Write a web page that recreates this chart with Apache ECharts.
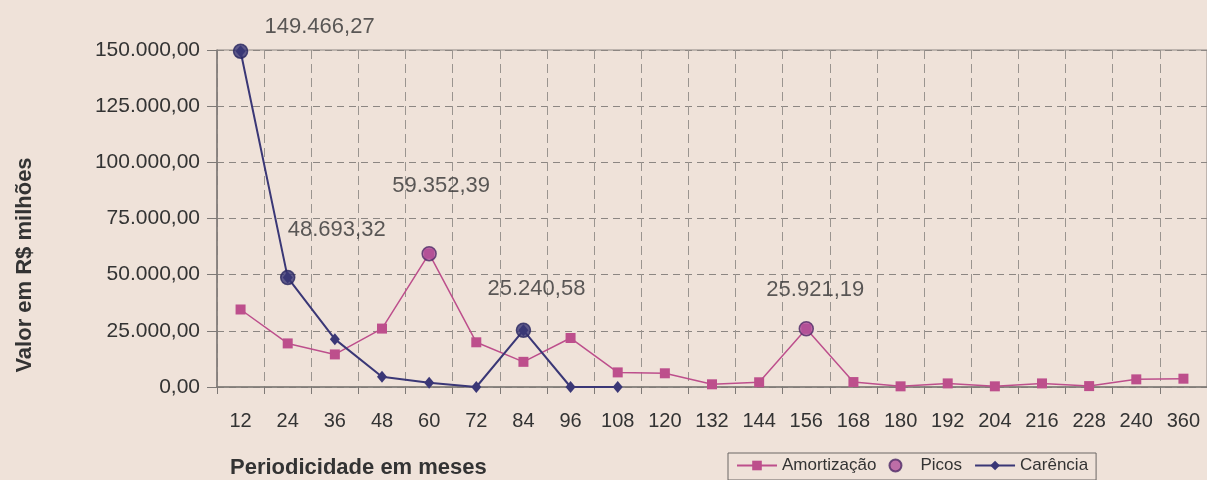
<!DOCTYPE html>
<html>
<head>
<meta charset="utf-8">
<style>
  html, body { margin: 0; padding: 0; background: #efe2d9; }
  #chart { width: 1207px; height: 480px; }
</style>
<script src="https://cdn.jsdelivr.net/npm/echarts@6/dist/echarts.min.js"></script>
</head>
<body>
<div id="chart"></div>
<script>
const meses = ['12', '24', '36', '48', '60', '72', '84', '96', '108', '120', '132', '144', '156', '168', '180', '192', '204', '216', '228', '240', '360'];
const amortizacao = [34500, 19400, 14500, 26000, 59352.39, 19900, 11200, 21800, 6500, 6100, 1200, 2100, 25921.19, 2200, 300, 1600, 300, 1600, 400, 3400, 3700];
const carencia = [149466.27, 48693.32, 21300, 4600, 1900, 0, 25240.58, 0, 0, null, null, null, null, null, null, null, null, null, null, null, null];
const picos = [149466.27, 48693.32, null, null, 59352.39, null, 25240.58, null, null, null, null, null, 25921.19, null, null, null, null, null, null, null, null];
const yTicks = [0, 25000, 50000, 75000, 100000, 125000, 150000];

const PINK = '#bd4f8c';
const NAVY = '#3a3776';
const TEXT = '#333333';
const GRIDC = '#8c8682';

function fmt(v) {
  const parts = Number(v).toFixed(2).split('.');
  return parts[0].replace(/\B(?=(\d{3})+(?!\d))/g, '.') + ',' + parts[1];
}

// label nudges for the peak values, by category index
const picoOffsets = { 0: [79, -1], 1: [49, -24], 4: [12, -44], 6: [13, -18], 12: [9, -15] };
const picoNavy = { 0: true, 1: true, 6: true };

const chart = echarts.init(document.getElementById('chart'), null, { renderer: 'canvas' });

chart.setOption({
  animation: false,
  backgroundColor: '#efe2d9',
  textStyle: { fontFamily: '"Liberation Sans", Arial, sans-serif' },
  grid: {
    left: 217, right: 0, top: 50, bottom: 93,
    show: true, borderColor: GRIDC, borderWidth: 1, backgroundColor: 'transparent'
  },
  graphic: [
    {
      type: 'text', x: 25, y: 265, rotation: Math.PI / 2,
      style: {
        text: 'Valor em R$ milhões', fill: TEXT,
        font: 'bold 22px "Liberation Sans", Arial, sans-serif',
        align: 'center', verticalAlign: 'middle'
      }
    },
    {
      type: 'text', left: 230, top: 457,
      style: {
        text: 'Periodicidade em meses', fill: TEXT,
        font: 'bold 22px "Liberation Sans", Arial, sans-serif'
      }
    }
  ],
  legend: {
    left: 728, top: 453,
    padding: [4, 8, 6, 8],
    itemGap: 12,
    itemWidth: 40, itemHeight: 12,
    borderColor: '#6b6765', borderWidth: 1,
    textStyle: { color: TEXT, fontSize: 17 },
    data: ['Amortização', 'Picos', 'Carência']
  },
  xAxis: {
    type: 'category',
    data: meses,
    boundaryGap: true,
    axisLine: { lineStyle: { color: '#7e7976', width: 1.5 } },
    axisTick: { show: true, length: 7, lineStyle: { color: '#7e7976' } },
    axisLabel: { color: TEXT, fontSize: 20, margin: 24, interval: 0 },
    splitLine: { show: true, interval: 0, lineStyle: { color: '#9a948f', type: [9, 5], width: 1 } }
  },
  yAxis: {
    type: 'value',
    min: yTicks[0],
    max: yTicks[yTicks.length - 1],
    interval: yTicks[1] - yTicks[0],
    axisLine: { show: true, lineStyle: { color: '#7e7976', width: 1.5 } },
    axisTick: { show: true, length: 10, lineStyle: { color: '#7e7976' } },
    axisLabel: { color: TEXT, fontSize: 21, margin: 17, formatter: fmt },
    splitLine: { show: true, lineStyle: { color: GRIDC, type: [7, 5], width: 1 } }
  },
  series: [
    {
      name: 'Amortização',
      type: 'line',
      data: amortizacao,
      symbol: 'rect',
      symbolSize: 10,
      lineStyle: { color: PINK, width: 1.5 },
      itemStyle: { color: PINK },
      z: 2
    },
    {
      name: 'Carência',
      type: 'line',
      data: carencia,
      symbol: 'diamond',
      symbolSize: [10, 12],
      lineStyle: { color: NAVY, width: 2 },
      itemStyle: { color: NAVY },
      z: 3
    },
    {
      name: 'Picos',
      type: 'scatter',
      symbol: 'circle',
      symbolSize: 14,
      itemStyle: { color: '#b0519a', borderColor: '#4e2a66', borderWidth: 1.5 },
      data: picos.map((v, i) => {
        if (v == null) return null;
        return {
          value: v,
          itemStyle: picoNavy[i] ? { color: NAVY, borderColor: '#2a2860' } : undefined,
          label: { offset: picoOffsets[i] }
        };
      }),
      label: {
        show: true,
        position: 'top',
        distance: 5,
        color: TEXT,
        fontSize: 22,
        formatter: (p) => fmt(p.value)
      },
      z: 5
    }
  ]
});
</script>
</body>
</html>
